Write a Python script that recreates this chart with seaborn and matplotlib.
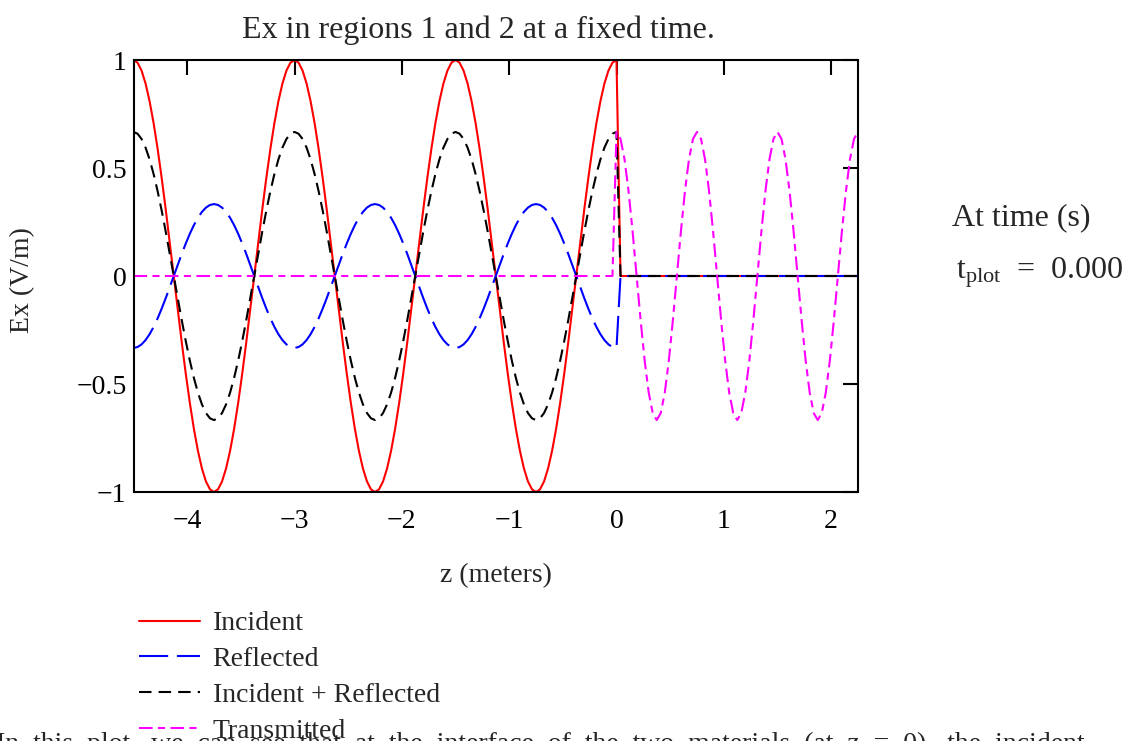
import numpy as np
import pandas as pd
import matplotlib
matplotlib.use("Agg")
import matplotlib.pyplot as plt
import seaborn as sns

# ---- values ----
series_names = ["Incident", "Reflected", "Incident + Reflected", "Transmitted"]
z_range = [-4.5, 2.25]          # metres, region 1 for z <= 0, region 2 for z >= 0
n_samples = 181
incident_amplitude = 1.0        # V/m
reflected_amplitude = -0.333    # V/m (reflection coefficient about -1/3)
transmitted_amplitude = 0.667   # V/m
wavelength_region1 = 1.5        # m
wavelength_region2 = 0.75       # m
x_ticks = [-4, -3, -2, -1, 0, 1, 2]
x_tick_labels = ["\u22124", "\u22123", "\u22122", "\u22121", "0", "1", "2"]
y_ticks = [-1, -0.5, 0, 0.5, 1]
y_tick_labels = ["\u22121", "\u22120.5", "0", "0.5", "1"]
t_plot = 0.000

# ---- build the field values at t = t_plot ----
z = np.linspace(z_range[0], z_range[1], n_samples)
k1 = 2 * np.pi / wavelength_region1
k2 = 2 * np.pi / wavelength_region2
region1 = z <= 0
region2 = z >= 0
incident = np.where(region1, incident_amplitude * np.cos(k1 * z), 0.0)
reflected = np.where(region1, reflected_amplitude * np.cos(k1 * z), 0.0)
total = incident + reflected
transmitted = np.where(region2, transmitted_amplitude * np.cos(k2 * z), 0.0)

df = pd.concat([
    pd.DataFrame({"z": z, "Ex": incident, "series": series_names[0]}),
    pd.DataFrame({"z": z, "Ex": reflected, "series": series_names[1]}),
    pd.DataFrame({"z": z, "Ex": total, "series": series_names[2]}),
    pd.DataFrame({"z": z, "Ex": transmitted, "series": series_names[3]}),
], ignore_index=True)

# ---- styling ----
sns.set_theme(style="white")
plt.rcParams["font.family"] = ["Liberation Serif", "DejaVu Serif"]
plt.rcParams["mathtext.fontset"] = "custom"
plt.rcParams["mathtext.rm"] = "Liberation Serif"
plt.rcParams["mathtext.it"] = "Liberation Serif:italic"

palette = {
    "Incident": "#ff0000",
    "Reflected": "#0000ff",
    "Incident + Reflected": "#000000",
    "Transmitted": "#ff00ff",
}
dashes = {
    "Incident": "",
    "Reflected": (14.0, 4.2),
    "Incident + Reflected": (6.0, 3.4),
    "Transmitted": (6.5, 2.6, 3.4, 2.6),
}

FS = 20
fig = plt.figure(figsize=(11.29, 7.41), dpi=100)
ax = fig.add_axes([133.5 / 1129, 1 - 492 / 741, (858 - 133.5) / 1129, 432 / 741])

sns.lineplot(data=df, x="z", y="Ex", hue="series", style="series",
             hue_order=series_names, style_order=series_names,
             palette=palette, dashes=dashes, linewidth=1.5,
             estimator=None, sort=False, legend=False, ax=ax)

ax.set_xlim(z_range)
ax.set_ylim(-1, 1)
ax.set_xticks(x_ticks)
ax.set_xticklabels(x_tick_labels)
ax.set_yticks(y_ticks)
ax.set_yticklabels(y_tick_labels)
ax.tick_params(direction="in", top=True, right=True, length=11, width=1.5,
               labelsize=FS, colors="black")
ax.tick_params(axis="x", pad=12)
ax.tick_params(axis="y", pad=5)
for s in ax.spines.values():
    s.set_visible(True)
    s.set_color("black")
    s.set_linewidth(1.5)

ax.set_xlabel("")
ax.set_ylabel("")
fig.text(478 / 1129, 1 - 30 / 741, "Ex in regions 1 and 2 at a fixed time.",
         fontsize=23, ha="center", va="center")
fig.text(496 / 1129, 1 - 576 / 741, "z (meters)", fontsize=FS,
         ha="center", va="center")
fig.text(23 / 1129, 1 - 280 / 741, "Ex (V/m)", fontsize=FS, rotation=90,
         ha="center", va="center")

handles = ax.get_lines()[:4]
fig.legend(handles, series_names, loc="upper left",
           bbox_to_anchor=(139 / 1129, 1 - 611 / 741), frameon=False,
           fontsize=FS, handlelength=2.2, handletextpad=0.45,
           labelspacing=0.37, borderpad=0, borderaxespad=0)

fig.text(952 / 1129, 1 - 218 / 741, "At time (s)", fontsize=23,
         ha="left", va="center")
fig.text(956 / 1129, 1 - 278 / 741,
         r"$\mathrm{t_{plot}}$  =  %.3f" % t_plot,
         fontsize=23, ha="left", va="baseline")

sentence = ("In this plot, we can see that at the interface of the two "
            "materials (at z = 0), the incident")
fig.text(-4 / 1129, 1 - 751 / 741, sentence.replace(" ", "  "),
         fontsize=FS, ha="left", va="baseline")

fig.savefig("out.png", dpi=100)
